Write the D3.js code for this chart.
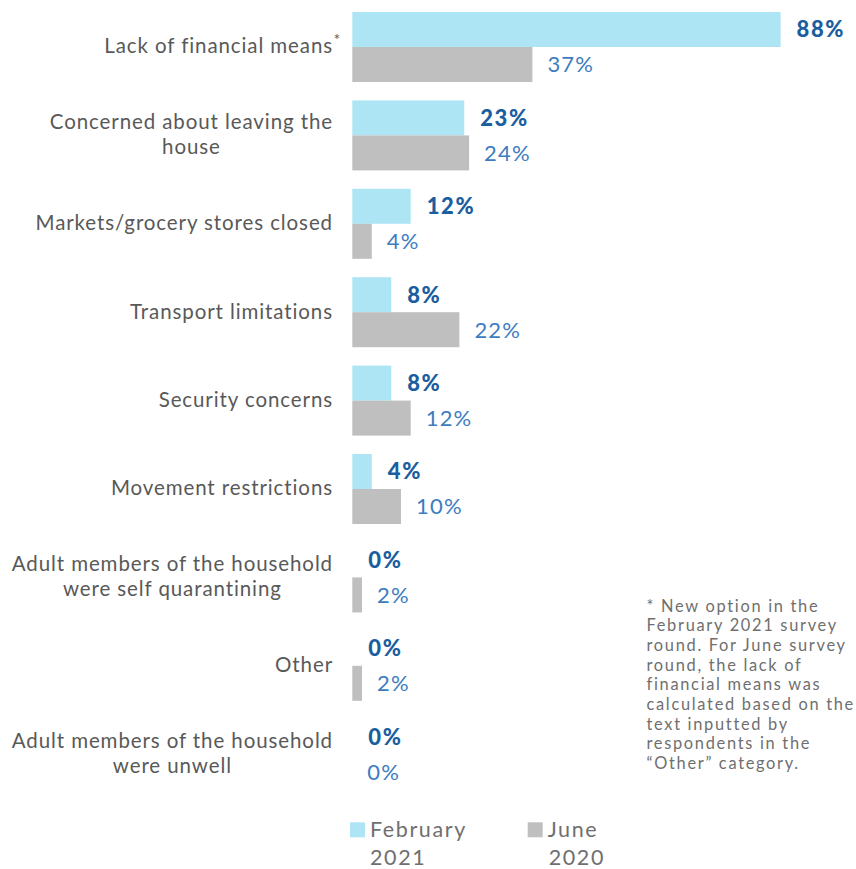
<!DOCTYPE html>
<html>
<head>
<meta charset="utf-8">
<script src="https://cdn.jsdelivr.net/npm/d3@7"></script>
<style>
  html, body { margin: 0; padding: 0; background: #fff; }
  svg { display: block; }
</style>
</head>
<body>
<div id="chart"></div>
<script>
const categories = [
  ["Lack of financial means"],
  ["Concerned about leaving the", "house"],
  ["Markets/grocery stores closed"],
  ["Transport limitations"],
  ["Security concerns"],
  ["Movement restrictions"],
  ["Adult members of the household", "were self quarantining"],
  ["Other"],
  ["Adult members of the household", "were unwell"]
];
const febValues = [88, 23, 12, 8, 8, 4, 0, 0, 0];
const junValues = [37, 24, 4, 22, 12, 10, 2, 2, 0];
const seriesNames = [["February", "2021"], ["June", "2020"]];
const footnote = [
  "* New option in the",
  "February 2021 survey",
  "round. For June survey",
  "round, the lack of",
  "financial means was",
  "calculated based on the",
  "text inputted by",
  "respondents in the",
  "\u201COther\u201D category."
];

const W = 856, H = 869;
const blueFill = "#ade5f5", grayFill = "#bfbfbf";
const febText = "#1b5e9f", junText = "#3d7cbf";
const labelColor = "#595959";
const font = "Lato, 'Noto Sans', sans-serif";

const svg = d3.select("#chart").append("svg").attr("width", W).attr("height", H);

const idx = categories.map((d, i) => i);
const y = d3.scaleBand().domain(idx).range([12, 789.2]).paddingInner(0.208).paddingOuter(0);
const sub = d3.scaleBand().domain(["feb", "jun"]).range([0, y.bandwidth()]).padding(0);
const x = d3.scaleLinear().domain([0, 88]).range([352.3, 780.6]);

const rows = svg.selectAll("g.row").data(idx).join("g")
  .attr("class", "row")
  .attr("transform", i => `translate(0,${y(i)})`);

// bars
rows.append("rect")
  .attr("x", x(0)).attr("y", sub("feb"))
  .attr("width", i => x(febValues[i]) - x(0))
  .attr("height", sub.bandwidth())
  .attr("fill", blueFill);
rows.append("rect")
  .attr("x", x(0)).attr("y", sub("jun"))
  .attr("width", i => x(junValues[i]) - x(0))
  .attr("height", sub.bandwidth())
  .attr("fill", grayFill);

// value labels
rows.append("text")
  .attr("x", i => x(febValues[i]) + 16)
  .attr("y", sub("feb") + sub.bandwidth() / 2)
  .attr("dy", "0.36em")
  .attr("font-family", font).attr("font-weight", 900).attr("font-size", 22)
  .attr("letter-spacing", 1.6)
  .attr("fill", febText)
  .text(i => febValues[i] + "%");
rows.append("text")
  .attr("x", i => x(junValues[i]) + 15)
  .attr("y", sub("jun") + sub.bandwidth() / 2)
  .attr("dy", "0.36em")
  .attr("font-family", font).attr("font-weight", 400).attr("font-size", 22)
  .attr("letter-spacing", 1.2)
  .attr("fill", junText)
  .text(i => junValues[i] + "%");

// category labels
const lineH = 25;
const labelRight = 333;
rows.each(function(i) {
  const g = d3.select(this);
  const lines = categories[i];
  const cy = y.bandwidth() / 2 - 1;
  const t = g.append("text")
    .attr("font-family", font).attr("font-size", 20.5)
    .attr("letter-spacing", 0.9)
    .attr("fill", labelColor);
  const spans = lines.map((ln, k) => t.append("tspan")
      .attr("y", cy + (k - (lines.length - 1) / 2) * lineH)
      .attr("dy", "0.36em")
      .text(ln));
  const widths = spans.map(s => s.node().getComputedTextLength());
  const maxW = d3.max(widths);
  const centerX = labelRight - maxW / 2;
  spans.forEach((s, k) => {
    s.attr("x", lines.length > 1 ? centerX - widths[k] / 2 : labelRight - widths[k]);
  });
  if (i === 0) {
    g.append("text")
      .attr("x", labelRight + 0.5).attr("y", cy - 1)
      .attr("font-family", font).attr("font-size", 16)
      .attr("fill", labelColor)
      .text("*");
  }
});

// legend
const legend = svg.append("g");
const legX = [350, 527.7];
const legFill = [blueFill, grayFill];
seriesNames.forEach((nm, k) => {
  legend.append("rect")
    .attr("x", legX[k]).attr("y", 822.3).attr("width", 15).attr("height", 15)
    .attr("fill", legFill[k]);
  const t = legend.append("text")
    .attr("font-family", font).attr("font-size", 21.5)
    .attr("letter-spacing", 1.6)
    .attr("fill", "#6f6f6f");
  nm.forEach((ln, j) => {
    t.append("tspan").attr("x", legX[k] + 20 + (k === 1 && j === 1 ? 1 : 0))
      .attr("y", 837.3 + j * 27.5).text(ln);
  });
});

// footnote
const fn = svg.append("g")
  .attr("font-family", font).attr("font-size", 16.4)
  .attr("letter-spacing", 1.7)
  .attr("fill", "#6f6f6f");
footnote.forEach((ln, k) => {
  fn.append("text").attr("x", 646.5).attr("y", 611.5 + k * 19.7).text(ln);
});
</script>
</body>
</html>
